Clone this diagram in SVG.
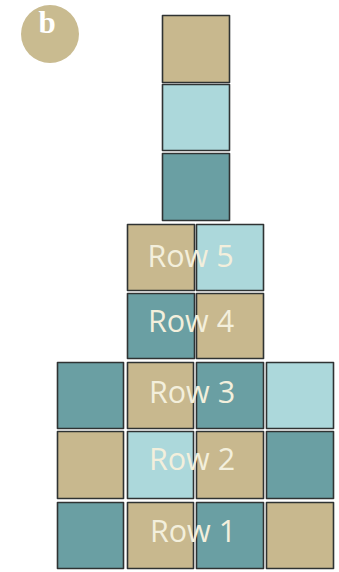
<svg xmlns="http://www.w3.org/2000/svg" width="339" height="572" viewBox="0 0 339 572">
<style>
.c{stroke:#2f3333;stroke-width:1.6;stroke-linejoin:round}
.tan{fill:#c8b88e}
.lt{fill:#acd8db}
.tl{fill:#6a9fa3}
.lbl{font-family:"Open Sans","DejaVu Sans",sans-serif;font-size:30.5px;fill:#f3efdc;text-anchor:middle}
</style>
<rect width="339" height="572" fill="#ffffff"/>
<g id="badge">
<circle cx="50" cy="34" r="29" fill="#c9bb90"/>
<text x="47" y="33" font-family="Liberation Serif,serif" font-weight="bold" font-size="31" fill="#ffffff" text-anchor="middle">b</text>
</g>
<g id="top-column">
<rect id="t1" class="c tan" x="162.5" y="15.5" width="67" height="67"/>
<rect id="t2" class="c lt" x="162.5" y="84.5" width="67" height="66"/>
<rect id="t3" class="c tl" x="162.5" y="153.5" width="67" height="67"/>
</g>
<g id="row5">
<rect class="c tan" x="127.5" y="224.5" width="67" height="66"/>
<rect class="c lt" x="196.5" y="224.5" width="67" height="66"/>
<text class="lbl" x="190.5" y="267">Row 5</text>
</g>
<g id="row4">
<rect class="c tl" x="127.5" y="293.5" width="67" height="65"/>
<rect class="c tan" x="196.5" y="293.5" width="67" height="65"/>
<text class="lbl" x="191" y="332">Row 4</text>
</g>
<g id="row3">
<rect class="c tl" x="57.5" y="362.5" width="66" height="66"/>
<rect class="c tan" x="127.5" y="362.5" width="66" height="66"/>
<rect class="c tl" x="196.5" y="362.5" width="67" height="66"/>
<rect class="c lt" x="266.5" y="362.5" width="67" height="66"/>
<text class="lbl" x="192" y="403">Row 3</text>
</g>
<g id="row2">
<rect class="c tan" x="57.5" y="431.5" width="66" height="67"/>
<rect class="c lt" x="127.5" y="431.5" width="66" height="67"/>
<rect class="c tan" x="196.5" y="431.5" width="67" height="67"/>
<rect class="c tl" x="266.5" y="431.5" width="67" height="67"/>
<text class="lbl" x="192" y="470">Row 2</text>
</g>
<g id="row1">
<rect class="c tl" x="57.5" y="502.5" width="66" height="66"/>
<rect class="c tan" x="127.5" y="502.5" width="66" height="66"/>
<rect class="c tl" x="196.5" y="502.5" width="67" height="66"/>
<rect class="c tan" x="266.5" y="502.5" width="67" height="66"/>
<text class="lbl" x="193" y="542">Row 1</text>
</g>
<g id="connectors"></g>
</svg>
